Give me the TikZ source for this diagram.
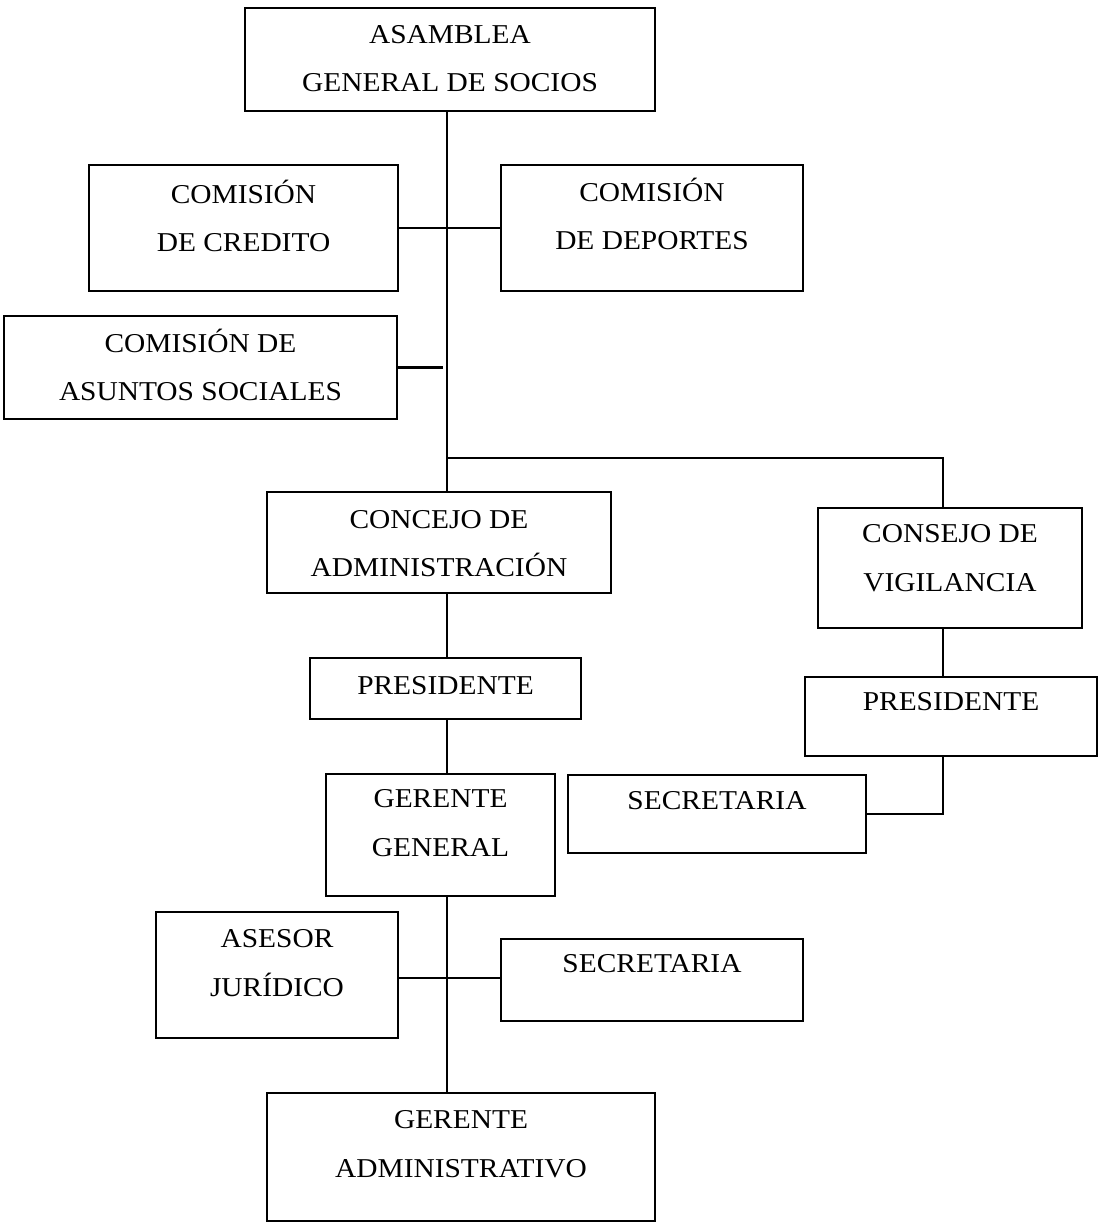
\documentclass[tikz,border=0pt]{standalone}
\usepackage{fontspec}
\setmainfont{Liberation Serif}[FakeStretch=1.08]
\usetikzlibrary{positioning}
\tikzset{
  box/.style={draw, line width=1.2pt, inner sep=0pt},
  txt/.style={align=center, inner sep=0pt, font=\fontsize{15.5}{27.5}\selectfont},
  link/.style={line width=1.4pt}
}
\begin{document}
\begin{tikzpicture}[x=0.02cm, y=-0.02cm]
      \useasboundingbox (0,0) rectangle (1099,1223);
      % boxes
      \node[box, minimum width=8.2cm, minimum height=2.06cm] at (450,59.5) (asam) {};
      \node[box, minimum width=6.18cm, minimum height=2.52cm] at (243.5,228) (cred) {};
      \node[box, minimum width=6.04cm, minimum height=2.52cm] at (652,228) (dep) {};
      \node[box, minimum width=7.86cm, minimum height=2.06cm] at (200.5,367.5) (soc) {};
      \node[box, minimum width=6.88cm, minimum height=2.02cm] at (439,542.5) (conc) {};
      \node[box, minimum width=5.28cm, minimum height=2.4cm] at (950,568) (vig) {};
      \node[box, minimum width=5.42cm, minimum height=1.22cm] at (445.5,688.5) (presa) {};
      \node[box, minimum width=5.84cm, minimum height=1.58cm] at (951,716.5) (presv) {};
      \node[box, minimum width=4.58cm, minimum height=2.44cm] at (440.5,835) (gg) {};
      \node[box, minimum width=5.96cm, minimum height=1.56cm] at (717,814) (secv) {};
      \node[box, minimum width=4.84cm, minimum height=2.52cm] at (277,975) (ases) {};
      \node[box, minimum width=6.04cm, minimum height=1.64cm] at (652,980) (secg) {};
      \node[box, minimum width=7.76cm, minimum height=2.56cm] at (461,1157) (gadm) {};
      % texts
      \node[txt, below=0.36cm of asam.north] (asam-t) {ASAMBLEA\\GENERAL DE SOCIOS};
      \node[txt, below=0.31cm of cred.north] (cred-t) {COMISIÓN\\DE CREDITO};
      \node[txt, below=0.27cm of dep.north] (dep-t) {COMISIÓN\\DE DEPORTES};
      \node[txt, below=0.28cm of soc.north] (soc-t) {COMISIÓN DE\\ASUNTOS SOCIALES};
      \node[txt, below=0.38cm of conc.north] (conc-t) {CONCEJO DE\\ADMINISTRACIÓN};
      \node[txt, below=0.35cm of vig.north] (vig-t) {CONSEJO DE\\VIGILANCIA};
      \node[txt, below=0.38cm of presa.north] (presa-t) {PRESIDENTE};
      \node[txt, below=0.33cm of presv.north] (presv-t) {PRESIDENTE};
      \node[txt, below=0.33cm of gg.north] (gg-t) {GERENTE\\GENERAL};
      \node[txt, below=0.35cm of secv.north] (secv-t) {SECRETARIA};
      \node[txt, below=0.37cm of ases.north] (ases-t) {ASESOR\\JURÍDICO};
      \node[txt, below=0.33cm of secg.north] (secg-t) {SECRETARIA};
      \node[txt, below=0.37cm of gadm.north] (gadm-t) {GERENTE\\ADMINISTRATIVO};
      % lines
      \coordinate (spine) at (447,458);
      \coordinate (rspine) at (943,458);
      \coordinate (jun) at (447,978);
      \draw[link] (asam.south -| spine) -- (conc.north -| spine);
      \draw[link] (cred.east) -- (dep.west);
      \draw[link] (soc.east) -- ([xshift=-0.08cm]soc.east -| spine);
      \draw[link] (spine) -- (rspine) -- (rspine |- vig.north);
      \draw[link] (vig.south -| rspine) -- (presv.north -| rspine);
      \draw[link] (presv.south -| rspine) |- (secv.east);
      \draw[link] (conc.south -| spine) -- (presa.north -| spine);
      \draw[link] (presa.south -| spine) -- (gg.north -| spine);
      \draw[link] (gg.south -| spine) -- (gadm.north -| spine);
      \draw[link] (jun -| ases.east) -- (jun -| secg.west);
    \end{tikzpicture}
\end{document}
